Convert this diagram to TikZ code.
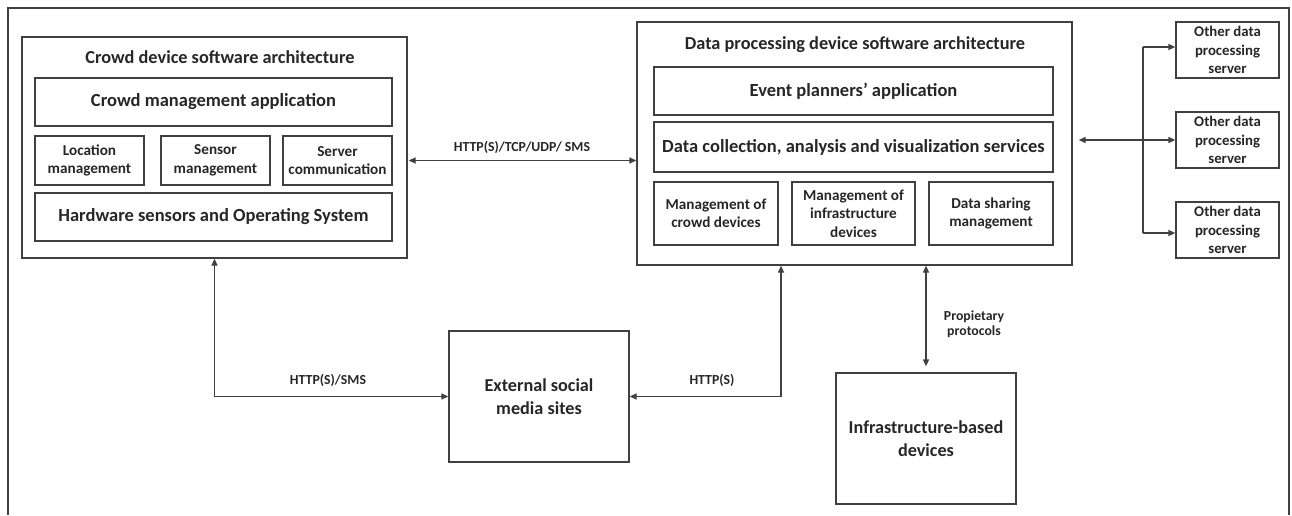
\documentclass[tikz,border=0pt]{standalone}
\usepackage{fontspec}
\setmainfont{Carlito}
\usetikzlibrary{arrows.meta,calc}
\definecolor{linec}{HTML}{404040}
\definecolor{textc}{HTML}{262626}
\tikzset{
  box/.style={draw=linec, line width=1.3pt, align=center, inner sep=0pt, text=textc},
  lbl/.style={text=textc, align=center, inner sep=0pt, font=\bfseries\fontsize{13.8}{15}\selectfont},
  conn/.style={draw=linec, line width=1.3pt},
  tip/.style={arrows={-Triangle[length=7pt,width=6pt]}},
  tips/.style={arrows={Triangle[length=7pt,width=6pt]-Triangle[length=7pt,width=6pt]}},
  titlefont/.style={font=\bfseries\fontsize{18.3}{20}\selectfont},
  bigfont/.style={font=\bfseries\fontsize{18.5}{20}\selectfont},
  midfont/.style={font=\bfseries\fontsize{15.2}{18.5}\selectfont},
  smallfont/.style={font=\bfseries\fontsize{14.8}{18.5}\selectfont},
  extfont/.style={font=\bfseries\fontsize{18.2}{23}\selectfont},
}
\begin{document}
\begin{tikzpicture}[x=1pt,y=-1pt]
\useasboundingbox (0,0) rectangle (1292,515);
% outer frame, open at the bottom
\draw[linec, line width=1.3pt] (8,515) -- (8,8) -- (1289,8) -- (1289,515);

% crowd device
\node[box, minimum width=385, minimum height=221] (L) at (214.5,147.5) {};
\node[text=textc, inner sep=0pt, titlefont] (Lt) at (220,57) {Crowd device software architecture};
\node[box, bigfont, minimum width=357, minimum height=48] (cma) at (213.5,102) {Crowd management application};
\node[box, midfont, minimum width=109, minimum height=49] (loc) at (89.5,160.5) {Location\\management};
\node[box, midfont, minimum width=109, minimum height=49] (sen) at (215.5,160.5) {Sensor\\management};
\node[box, midfont, minimum width=109, minimum height=49] (srv) at (337.5,160.5) {Server\\communication};
\node[box, bigfont, minimum width=357, minimum height=48] (hw) at (213.5,217) {Hardware sensors and Operating System};

% data processing device
\node[box, minimum width=435, minimum height=243] (R) at (854.5,143.5) {};
\node[text=textc, inner sep=0pt, titlefont] (Rt) at (855,45) {Data processing device software architecture};
\node[box, bigfont, minimum width=399, minimum height=48] (epa) at (853.5,91) {Event planners’ application};
\node[box, bigfont, minimum width=399, minimum height=50] (dca) at (853.5,147) {Data collection, analysis and visualization services};
\node[box, midfont, minimum width=124, minimum height=63] (m1) at (716,213.5) {Management of\\crowd devices};
\node[box, midfont, minimum width=123, minimum height=63] (m2) at (853.5,213.5) {Management of\\infrastructure\\devices};
\node[box, midfont, minimum width=124, minimum height=63] (m3) at (991,213.5) {Data sharing\\management};

% other servers
\node[box, smallfont, minimum width=103, minimum height=56] (s1) at (1227.5,50) {Other data\\processing\\server};
\node[box, smallfont, minimum width=103, minimum height=56] (s2) at (1227.5,140) {Other data\\processing\\server};
\node[box, smallfont, minimum width=103, minimum height=56] (s3) at (1227.5,230) {Other data\\processing\\server};

% external parties
\node[box, extfont, minimum width=180, minimum height=131] (ext) at (539,396.5) {External social\\media sites};
\node[box, extfont, minimum width=180, minimum height=131] (inf) at (926,438.5) {Infrastructure-based\\devices};

% connectors
\draw[conn, tips] ([xshift=1pt]srv.east -| L.east) -- (srv.east -| R.west);
\node[lbl] (l1) at (522,147) {HTTP(S)/TCP/UDP/ SMS};

\coordinate (trunk) at (1143,140);
\draw[conn, tips] ([xshift=6pt]R.east |- s2.west) -- (s2.west);
\draw[conn] ([yshift=3pt]trunk |- s1.west) -- ([yshift=-3pt]trunk |- s3.west);
\draw[conn, tip] ([yshift=3pt]trunk |- s1.west) -- ([yshift=3pt]s1.west);
\draw[conn, tip] ([yshift=-3pt]trunk |- s3.west) -- ([yshift=-3pt]s3.west);

\draw[conn, tips] (L.south) -- (L.south |- ext.west) -- (ext.west);
\node[lbl] (l2) at (328,380) {HTTP(S)/SMS};

\coordinate (hx) at (781,0);
\draw[conn, tips] (ext.east) -- (hx |- ext.east) -- (hx |- R.south);
\node[lbl] (l3) at (712,380) {HTTP(S)};

\draw[conn, tips] (inf.north |- R.south) -- ([yshift=6pt]inf.north);
\node[lbl] (l4) at (974,324.5) {Propietary\\protocols};
\end{tikzpicture}
\end{document}
